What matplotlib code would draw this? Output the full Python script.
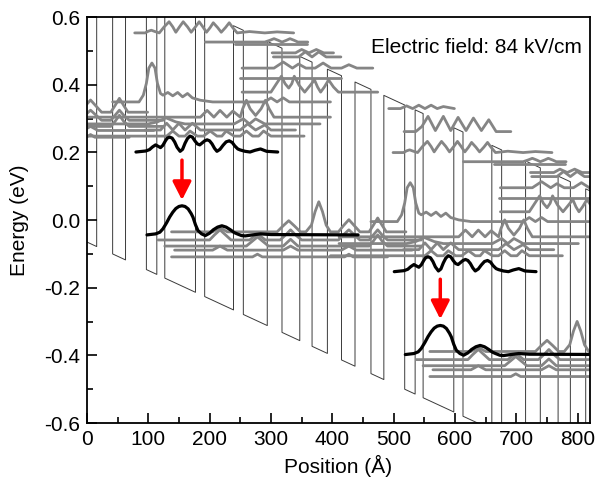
import matplotlib
matplotlib.use("Agg")
import matplotlib.pyplot as plt
from matplotlib.ticker import MultipleLocator, FormatStrFormatter

plt.rcParams['font.family'] = ['Liberation Sans', 'DejaVu Sans']
plt.rcParams['axes.unicode_minus'] = False

# ---------------- band structure (one period, Å) ----------------
layer_thickness = [22, 26, 21, 34, 17, 13, 50, 15, 47, 16, 39, 24, 29, 20, 25, 23]
layer_is_barrier = [0, 1, 0, 1, 0, 1, 0, 1, 0, 1, 0, 1, 0, 1, 0, 1]
period_start = -6.0
period_length = 421.0
band_offset = 0.84          # eV
field_slope = 0.00084       # eV/Å  (84 kV/cm)
ec_at_zero = -0.065         # eV
period_drop = field_slope * period_length

# ---------------- moduli-squared wavefunctions (period 1 coordinates) ----------------
# each: baseline energy (eV), positions (Å), height above baseline (meV)
g0_e = 0.683
g0_x = [71, 90, 100, 110, 120, 130, 140, 150, 160, 178]
g0_dy = [0, 0, 8, 0, 10, 0, 10, 0, 6, 0]

g1_e = 0.615
g1_x = [96, 115, 125, 135, 147, 160, 172, 184, 197, 209, 222, 234, 246, 270]
g1_dy = [0, 0, 15, 45, 3, 45, 3, 42, 3, 40, 3, 35, 0, 0]

g2_e = 0.553
g2_x = [78, 95, 100, 105, 111, 118, 126, 134, 140, 145, 151, 157, 164, 170, 177, 183,
        189, 195, 201, 206, 213, 219, 226, 232, 238, 245, 265, 290, 310, 337]
g2_dy = [0, 0, 5, 8, 4, 0, 18, 33, 18, 2, 18, 33, 18, 2, 18, 33,
         18, 2, 16, 30, 16, 2, 16, 30, 15, 0, 4, 0, 3, 0]

g3_e = 0.526
g3_x = [193, 290, 298, 305, 312, 318, 325, 331, 338, 344, 360]
g3_dy = [0, 0, 5, 10, 5, 0, 5, 10, 5, 0, 0]

g3b_e = 0.520
g3b_x = [242, 358]
g3b_dy = [0, 0]

g4_e = 0.494
g4_x = [302, 340, 350, 362, 374, 386, 402]
g4_dy = [0, 0, 10, 0, 10, 0, 0]

g5_e = 0.482
g5_x = [304, 345, 356, 367, 378, 390, 414]
g5_dy = [0, 0, 15, 0, 15, 0, 0]

g6_e = 0.449
g6_x = [253, 305, 320, 335, 345, 357, 372, 385, 398, 415, 427, 440, 466]
g6_dy = [0, 0, 18, 0, 12, 0, 0, 15, 0, 0, 10, 0, 0]

g7_e = 0.378
g7_x = [253, 300, 309, 317, 323, 329, 334, 338, 346, 355, 364, 371, 376, 381, 387, 394, 402, 410, 474]
g7_dy = [0, 0, 25, 47, 25, 12, 25, 47, 20, 0, 20, 36, 15, 0, 15, 36, 15, 0, 0]

g8_e = 0.420
g8_x = [250, 414]
g8_dy = [0, 0]

g9_e = 0.349
g9_x = [42, 85, 92, 97, 101, 106, 111, 115, 120, 124, 132, 140, 148, 156, 164, 172, 185,
        205, 250, 290, 300, 310, 320, 330, 340, 397]
g9_dy = [0, 0, 20, 55, 100, 115, 100, 55, 25, 20, 28, 18, 28, 15, 25, 12, 5,
         0, 0, 0, 12, 0, 12, 0, 0, 0]

g10_e = 0.304
g10_x = [-10, 185, 196, 207, 217, 228, 238, 250, 254, 260, 266, 275, 284, 291, 297, 305, 330, 397]
g10_dy = [0, 0, 20, 0, 20, 0, 18, 0, 25, 50, 25, 5, 25, 50, 25, 0, 0, 0]

g11_e = 0.284
g11_x = [-10, 100, 115, 129, 145, 160, 240, 255, 265, 275, 290, 380]
g11_dy = [0, 0, 6, 18, 6, 0, 0, 15, 0, 15, 0, 0]

g12_e = 0.266
g12_x = [95, 120, 130, 140, 150, 160, 172, 185, 250, 262, 275, 290, 300, 340]
g12_dy = [0, 0, 20, 0, 20, 0, 20, 0, 0, 18, 0, 15, 0, 0]

g13_e = 0.248
g13_x = [-24, 130, 140, 150, 160, 168, 180, 190, 201, 212, 220, 227, 240, 250, 260, 270,
         280, 288, 300, 354]
g13_dy = [0, 0, 15, 0, 0, 15, 0, 0, 15, 0, 0, 15, 0, 0, 15, 0, 0, 15, 0, 0]

l1_e = -0.035
l1_x = [138, 205, 217, 229, 310, 320, 329, 338, 348, 357, 366, 372, 378, 384, 390, 397,
        410, 418, 427, 436, 445, 460, 467, 474, 481, 488, 520]
l1_dy = [0, 0, 12, 0, 0, 18, 33, 18, 0, 0, 20, 60, 89, 60, 20, 0,
         0, 18, 36, 18, 0, 0, 20, 41, 20, 0, 0]

l2_e = -0.059
l2_x = [116, 200, 208, 217, 226, 235, 265, 278, 291, 315, 324, 332, 340, 350, 410, 418,
        427, 436, 445, 460, 467, 474, 481, 490, 545]
l2_dy = [0, 0, 15, 30, 15, 0, 0, 18, 0, 0, 15, 30, 15, 0, 0, 15,
         30, 15, 0, 0, 15, 30, 15, 0, 0]

l3_e = -0.077
l3_x = [127, 260, 270, 278, 286, 296, 320, 332, 344, 460, 467, 474, 481, 490, 545]
l3_dy = [0, 0, 15, 27, 15, 0, 0, 20, 0, 0, 15, 33, 15, 0, 0]

l4_e = -0.089
l4_x = [143, 205, 217, 229, 320, 332, 344, 415, 427, 439, 530]
l4_dy = [0, 0, 12, 0, 0, 12, 0, 0, 12, 0, 0]

l5_e = -0.109
l5_x = [138, 270, 278, 286, 420, 427, 434, 490]
l5_dy = [0, 0, 8, 0, 0, 8, 0, 0]

# laser levels (black)
upper_e = 0.201
upper_x = [80, 96, 102, 107, 112, 116, 120, 124, 128, 131, 135, 139, 143, 147, 152, 156,
           160, 164, 168, 172, 176, 180, 184, 188, 192, 196, 200, 204, 208, 212, 217,
           222, 227, 232, 237, 241, 246, 250, 258, 266, 274, 283, 293, 311]
upper_dy = [0, 3, 7, 15, 21, 17, 13, 20, 33, 41, 44, 41, 30, 14, 2, 8,
            26, 40, 47, 44, 33, 24, 21, 27, 33, 36, 33, 24, 11, 2, 8,
            20, 30, 33, 28, 18, 9, 6, 2, 0, 5, 9, 2, 0]

lower_e = -0.044
lower_x = [98, 112, 119, 124, 130, 135, 140, 145, 150, 155, 160, 165, 170, 173, 177, 181,
           187, 193, 200, 206, 213, 220, 227, 234, 240, 245, 252, 258, 270, 283, 300, 442]
lower_dy = [0, 3, 8, 18, 36, 53, 67, 78, 84, 86, 84, 77, 63, 52, 30, 13,
            3, -2, 5, 15, 23, 27, 23, 15, 7, 3, -2, -3, 0, 3, 1, 0]

# transition arrows
arrow_x = [155, 576]
arrow_top = [0.177, -0.175]
arrow_tip = [0.059, -0.293]

gray_states = [
    (g0_e, g0_x, g0_dy), (g1_e, g1_x, g1_dy), (g2_e, g2_x, g2_dy), (g3_e, g3_x, g3_dy),
    (g3b_e, g3b_x, g3b_dy), (g4_e, g4_x, g4_dy), (g5_e, g5_x, g5_dy), (g6_e, g6_x, g6_dy),
    (g7_e, g7_x, g7_dy), (g8_e, g8_x, g8_dy), (g9_e, g9_x, g9_dy), (g10_e, g10_x, g10_dy),
    (g11_e, g11_x, g11_dy), (g12_e, g12_x, g12_dy), (g13_e, g13_x, g13_dy),
    (l1_e, l1_x, l1_dy), (l2_e, l2_x, l2_dy), (l3_e, l3_x, l3_dy), (l4_e, l4_x, l4_dy),
    (l5_e, l5_x, l5_dy),
]
black_states = [(upper_e, upper_x, upper_dy), (lower_e, lower_x, lower_dy)]

# ---------------- figure ----------------
fig = plt.figure(figsize=(5.95, 4.86), dpi=100)
ax = fig.add_axes([0.146, 0.1296, 0.8456, 0.8354])

# conduction band profile
cb_x, cb_y = [], []
for k in range(-1, 3):
    x = period_start + k * period_length
    for t, b in zip(layer_thickness, layer_is_barrier):
        for xx in (x, x + t):
            cb_x.append(xx)
            cb_y.append(ec_at_zero - field_slope * xx + band_offset * b)
        x += t
ax.plot(cb_x, cb_y, color='#3a3a3a', lw=0.7, zorder=1)

def shifted(e, xs, dys, k):
    px = [v + k * period_length for v in xs]
    py = [e + d / 1000.0 - k * period_drop for d in dys]
    return px, py

for k in (-1, 0, 1):
    for e, xs, dys in gray_states:
        px, py = shifted(e, xs, dys, k)
        ax.plot(px, py, color='#858585', lw=2.0, solid_joinstyle='round',
                solid_capstyle='round', zorder=2)

for k in (0, 1):
    for e, xs, dys in black_states:
        px, py = shifted(e, xs, dys, k)
        ax.plot(px, py, color='black', lw=2.3, solid_joinstyle='round',
                solid_capstyle='round', zorder=3)

for xa, yt, yb in zip(arrow_x, arrow_top, arrow_tip):
    ax.annotate('', xy=(xa, yb), xytext=(xa, yt),
                arrowprops=dict(arrowstyle='-|>,head_length=0.55,head_width=0.28',
                                color='red', lw=2.5, mutation_scale=20,
                                shrinkA=0, shrinkB=0), zorder=5)

ax.text(0.984, 0.926, 'Electric field: 84 kV/cm', transform=ax.transAxes,
        ha='right', va='center', fontsize=15)

ax.set_xlim(0, 820)
ax.set_ylim(-0.6, 0.6)
ax.xaxis.set_major_locator(MultipleLocator(100))
ax.xaxis.set_minor_locator(MultipleLocator(50))
ax.yaxis.set_major_locator(MultipleLocator(0.2))
ax.yaxis.set_minor_locator(MultipleLocator(0.1))
ax.yaxis.set_major_formatter(FormatStrFormatter('%.1f'))
ax.tick_params(which='both', direction='in', top=False, right=False,
               labelsize=15, width=1.2)
ax.tick_params(which='major', length=7, pad=5)
ax.tick_params(which='minor', length=4)
for s in ax.spines.values():
    s.set_linewidth(1.3)
ax.set_xlabel('Position (Å)', fontsize=15, labelpad=4)
ax.set_ylabel('Energy (eV)', fontsize=15, labelpad=11)

fig.savefig('out.png', dpi=100)
